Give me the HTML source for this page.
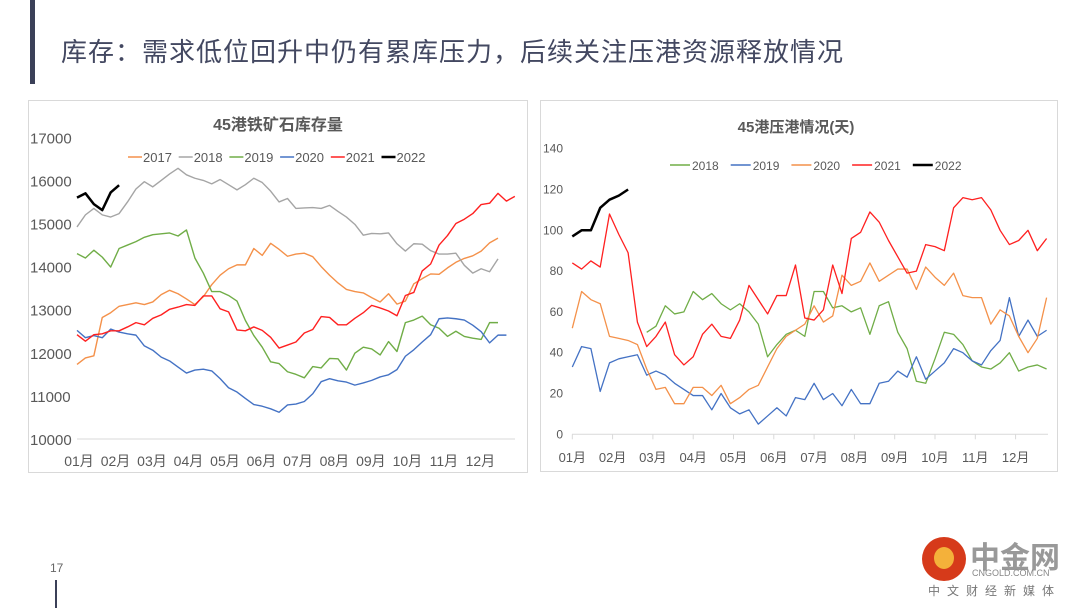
<!DOCTYPE html>
<html><head><meta charset="utf-8"><style>
body{margin:0;background:#fff;width:1080px;height:608px;overflow:hidden;position:relative;font-family:"Liberation Sans","Noto Sans CJK SC",sans-serif}
svg text{font-family:"Liberation Sans","Noto Sans CJK SC",sans-serif}
</style></head><body>
<div style="position:absolute;left:30px;top:0;width:5px;height:84px;background:#3b4058"></div>
<div style="position:absolute;left:61px;top:32px;font-size:26px;color:#434861;font-family:'Liberation Sans','Noto Sans CJK SC',sans-serif;letter-spacing:1px">库存：需求低位回升中仍有累库压力，后续关注压港资源释放情况</div>
<div style="position:absolute;left:50px;top:561px;font-size:12px;color:#666">17</div>
<div style="position:absolute;left:55px;top:580px;width:2px;height:28px;background:#3b4058"></div>
<div style="position:absolute;left:922px;top:537px;width:150px;height:70px">
 <div style="position:absolute;left:0;top:0;width:44px;height:44px;border-radius:50%;background:#d63a1a"></div>
 <div style="position:absolute;left:12px;top:10px;width:20px;height:22px;border-radius:50%;background:#f4b13a"></div>
 <div style="position:absolute;left:48px;top:-4px;font-size:30px;color:#999;font-weight:bold;font-family:'Noto Sans CJK SC',sans-serif">中金网</div>
 <div style="position:absolute;left:50px;top:31px;font-size:9px;color:#888">CNGOLD.COM.CN</div>
 <div style="position:absolute;left:6px;top:45px;font-size:12px;color:#777;letter-spacing:7px;font-family:'Noto Sans CJK SC',sans-serif">中文财经新媒体</div>
</div>

<svg id="c1" style="position:absolute;left:0;top:0" width="1080" height="608"></svg>

<script>
const months=["01月","02月","03月","04月","05月","06月","07月","08月","09月","10月","11月","12月"];
const leftTicks=[10000,11000,12000,13000,14000,15000,16000,17000];
const leftYears=["2017","2018","2019","2020","2021","2022"];
const inv2017=[11730,11880,11930,12820,12930,13080,13120,13160,13120,13180,13350,13450,13370,13250,13120,13300,13580,13800,13950,14040,14040,14420,14260,14540,14400,14240,14290,14310,14230,14000,13800,13620,13470,13420,13390,13280,13180,13370,13130,13200,13600,13720,13830,13820,13970,14100,14190,14250,14360,14550,14660];
const inv2018=[14920,15200,15350,15200,15150,15230,15500,15800,15970,15850,16000,16150,16280,16130,16050,16000,15920,16020,15900,15780,15900,16050,15950,15750,15500,15580,15350,15360,15370,15350,15420,15280,15150,14980,14730,14770,14760,14780,14530,14360,14530,14520,14370,14290,14290,14310,14030,13850,13950,13880,14180];
const inv2019=[14300,14200,14380,14220,13990,14420,14500,14580,14680,14740,14760,14780,14710,14850,14200,13850,13420,13420,13330,13200,12750,12400,12130,11790,11750,11560,11500,11420,11680,11650,11870,11860,11600,11990,12130,12090,11950,12260,12030,12700,12760,12850,12650,12570,12380,12500,12380,12340,12310,12700,12700];
const inv2020=[12520,12350,12400,12350,12550,12480,12440,12410,12160,12060,11900,11810,11670,11530,11600,11620,11580,11400,11190,11090,10940,10800,10760,10700,10620,10790,10810,10870,11050,11330,11400,11350,11320,11250,11300,11360,11440,11490,11610,11920,12070,12250,12420,12790,12810,12790,12760,12640,12490,12230,12410,12410];
const inv2021=[12420,12270,12420,12440,12510,12510,12600,12700,12650,12800,12880,13010,13060,13120,13100,13320,13320,13020,12950,12530,12510,12600,12520,12360,12110,12180,12250,12460,12540,12840,12820,12650,12650,12800,12930,13100,13040,12970,12860,13330,13400,13900,14060,14500,14720,15000,15100,15230,15440,15470,15700,15520,15630];
const inv2022=[15600,15700,15450,15310,15720,15890];

const rightTicks=[0,20,40,60,80,100,120,140];
const rightYears=["2018","2019","2020","2021","2022"];
const port2018=[50,53,63,59,60,70,66,69,64,61,64,60,54,38,44,49,51,48,70,70,62,63,60,62,49,63,65,50,42,26,25,37,50,49,44,36,33,32,35,40,31,33,34,32];
const port2018Start=8;
const port2019=[33,43,42,21,35,37,38,39,29,31,29,25,22,19,19,12,20,13,10,12,5,9,13,9,18,17,25,17,20,14,22,15,15,25,26,31,28,38,27,31,35,42,40,36,34,41,46,67,48,56,48,51];
const port2020=[52,70,66,64,48,47,46,44,32,22,23,15,15,23,23,19,24,15,18,22,24,33,42,48,51,54,63,55,58,78,73,75,84,75,78,81,81,71,82,77,73,79,68,67,67,54,61,58,48,40,47,67];
const port2021=[84,81,85,82,108,98,89,55,43,48,55,39,34,38,49,54,48,47,56,73,66,59,68,68,83,57,56,61,83,69,96,99,109,104,95,87,79,80,93,92,90,111,116,115,116,110,100,93,95,100,90,96];
const port2022=[97,100,100,111,115,117,120];

const NS="http://www.w3.org/2000/svg";
const svg=document.getElementById('c1');
function mk(tag,attrs,parent){const e=document.createElementNS(NS,tag);for(const k in attrs)e.setAttribute(k,attrs[k]);(parent||svg).appendChild(e);return e;}

// Left chart
const L=mk('g',{});


let r=mk('rect',{x:28.5,y:100.5,width:499,height:372,fill:'#fff',stroke:'#d9d9d9'},L);


const lx=i=>77+i*8.42, ly=v=>439-(v-10000)*0.0431;
let t=mk('text',{x:278,y:130,'text-anchor':'middle','font-size':16,'font-weight':'bold',fill:'#595959'},L);t.textContent='45港铁矿石库存量';


let ax=mk('line',{x1:77,x2:515,y1:ly(10000),y2:ly(10000),stroke:'#d9d9d9'},L);


leftTicks.forEach(v=>{const e=mk('text',{x:30,y:ly(v)+6,'font-size':15,fill:'#595959'},L);e.textContent=v;

});
months.forEach((m,i)=>{const e=mk('text',{x:lx(i*52/12)+2,y:466,'text-anchor':'middle','font-size':14,fill:'#595959'},L);e.textContent=m;

});
const lSeries=[inv2017,inv2018,inv2019,inv2020,inv2021,inv2022];
const lCols=['#f4914a','#a5a5a5','#70ad47','#4472c4','#ff2020','#000'];
lSeries.forEach((s,k)=>{const p=mk('polyline',{points:s.map((v,i)=>lx(i)+','+ly(v)).join(' '),fill:'none',stroke:lCols[k],'stroke-width':k==5?2.5:1.4,'stroke-linejoin':'round'},L);

});
leftYears.forEach((y,k)=>{const x0=128+k*50.7;
const g=mk('g',{},L);


mk('line',{x1:x0,x2:x0+14,y1:157,y2:157,stroke:lCols[k],'stroke-width':k==5?2.5:1.5},g);
const e=mk('text',{x:x0+15,y:162,'font-size':13,fill:'#595959'},g);e.textContent=y;});

// Right chart
const R=mk('g',{});


r=mk('rect',{x:540.5,y:100.5,width:517,height:371,fill:'#fff',stroke:'#d9d9d9'},R);


const rx=i=>572.3+i*9.3, ry=v=>434.3-v*2.04;
t=mk('text',{x:796,y:132,'text-anchor':'middle','font-size':15,'font-weight':'bold',fill:'#595959'},R);t.textContent='45港压港情况(天)';


ax=mk('line',{x1:572,x2:1048,y1:ry(0),y2:ry(0),stroke:'#d9d9d9'},R);


rightTicks.forEach(v=>{const e=mk('text',{x:563,y:ry(v)+4,'text-anchor':'end','font-size':12,fill:'#595959'},R);e.textContent=v;

});
months.forEach((m,i)=>{const xx=572.3+i*40.3;mk('line',{x1:xx,x2:xx,y1:ry(0),y2:ry(0)+5,stroke:'#d9d9d9'},R);
const e=mk('text',{x:xx,y:462,'text-anchor':'middle','font-size':13,fill:'#595959'},R);e.textContent=m;

});
const rSeries=[port2018,port2019,port2020,port2021,port2022];
const rStart=[port2018Start,0,0,0,0];
const rCols=['#70ad47','#4472c4','#f4914a','#ff2020','#000'];
rSeries.forEach((s,k)=>{const p=mk('polyline',{points:s.map((v,i)=>rx(i+rStart[k])+','+ry(v)).join(' '),fill:'none',stroke:rCols[k],'stroke-width':k==4?2.5:1.3,'stroke-linejoin':'round'},R);

});
rightYears.forEach((y,k)=>{const x0=670+k*60.7;
const g=mk('g',{},R);


mk('line',{x1:x0,x2:x0+20,y1:165,y2:165,stroke:rCols[k],'stroke-width':k==4?2.5:1.5},g);
const e=mk('text',{x:x0+22,y:170,'font-size':12,fill:'#595959'},g);e.textContent=y;});
</script>
</body></html>
